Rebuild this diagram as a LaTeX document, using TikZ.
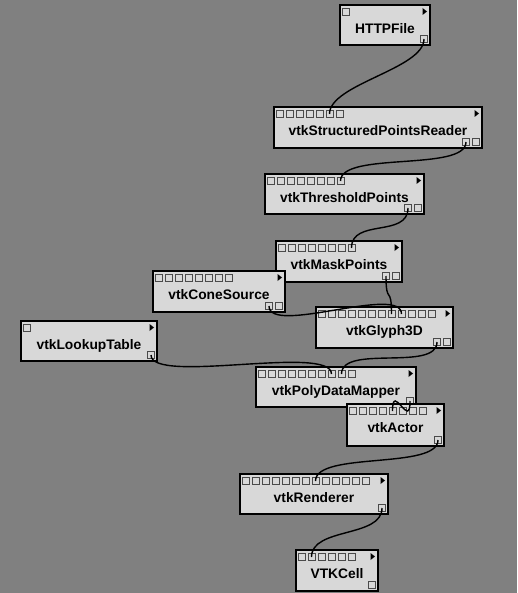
\documentclass[tikz,border=0pt]{standalone}
\usepackage{fontspec}
\setsansfont{Liberation Sans}
\usetikzlibrary{calc}
\definecolor{bggray}{HTML}{808080}
\definecolor{boxgray}{HTML}{D8D8D8}
\definecolor{portgray}{HTML}{4A4A4A}

% one pipeline module: name, label, left, top, width, height, inputs, outputs
\newcommand{\vtkmodule}[8]{%
  \node[module,minimum width=#5pt,minimum height=#6pt] (#1) at (#3,#4) {};
  \node[modlabel] (#1-label) at ($(#1.north)+(0,28.5)$) {#2};
  \foreach \i in {1,...,#7}
    \node[port] (#1-in-\i) at ($(#1.north west)+(10*\i-4.5,7)$) {};
  \foreach \i in {1,...,#8}
    \node[port] (#1-out-\i) at ($(#1.south east)+(10*\i-10*#8-6,-6)$) {};
  \fill ($(#1.north east)+(-7.5,3)$) -- ++(4.5,3.5) -- ++(-4.5,3.5) -- cycle;
}
\newcommand{\wire}[2]{%
  \draw[wire] (#1.center) .. controls ($(#1.center)+(0,30)$)
    and ($(#2.center)+(0,-30)$) .. (#2.center);
}

\begin{document}
\begin{tikzpicture}[x=1pt,y=-1pt,
    module/.style={draw=black,line width=1.6pt,fill=boxgray,anchor=north west,
                   inner sep=0pt,outer sep=0pt},
    modlabel/.style={font=\sffamily\bfseries\fontsize{13.8}{16}\selectfont,
                     anchor=base,inner sep=0pt},
    port/.style={draw=portgray,line width=0.8pt,fill=boxgray,minimum size=7pt,
                 inner sep=0pt,outer sep=0pt},
    wire/.style={line width=1.4pt},
  ]
  \useasboundingbox (0,0) rectangle (517,593);
  \fill[bggray] (0,0) rectangle (517,593);

  \vtkmodule{http}{HTTPFile}{340}{5}{90}{40}{1}{1}
  \vtkmodule{spr}{vtkStructuredPointsReader}{274}{107}{208}{41}{7}{2}
  \vtkmodule{thresh}{vtkThresholdPoints}{265}{174}{159}{40}{8}{2}
  \vtkmodule{mask}{vtkMaskPoints}{276}{241}{126}{41}{8}{2}
  \vtkmodule{cone}{vtkConeSource}{153}{271}{132}{41}{8}{2}
  \vtkmodule{glyph}{vtkGlyph3D}{316}{307}{137}{41}{12}{2}
  \vtkmodule{lut}{vtkLookupTable}{21}{321}{136}{40}{1}{1}
  \vtkmodule{mapper}{vtkPolyDataMapper}{256}{367}{160}{40}{10}{1}
  \vtkmodule{actor}{vtkActor}{347}{404}{97}{42}{8}{1}
  \vtkmodule{renderer}{vtkRenderer}{240}{474}{148}{40}{13}{1}
  \vtkmodule{cell}{VTKCell}{296}{550}{82}{41}{6}{1}

  \wire{http-out-1}{spr-in-6}
  \wire{spr-out-1}{thresh-in-8}
  \wire{thresh-out-1}{mask-in-8}
  \wire{mask-out-1}{glyph-in-8}
  \wire{cone-out-1}{glyph-in-9}
  \wire{glyph-out-1}{mapper-in-9}
  \wire{lut-out-1}{mapper-in-8}
  \wire{mapper-out-1}{actor-in-5}
  \wire{actor-out-1}{renderer-in-8}
  \wire{renderer-out-1}{cell-in-2}
\end{tikzpicture}
\end{document}
